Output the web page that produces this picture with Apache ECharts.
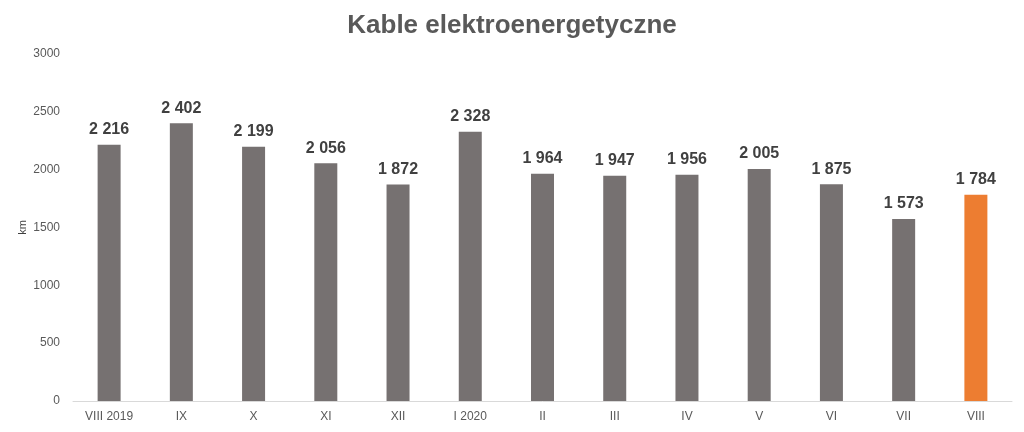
<!DOCTYPE html>
<html>
<head>
<meta charset="utf-8">
<script src="https://cdn.jsdelivr.net/npm/echarts@6/dist/echarts.min.js"></script>
<style>
  html, body { margin: 0; padding: 0; background: #fff; }
  #chart { width: 1024px; height: 432px; }
</style>
</head>
<body>
<div id="chart"></div>
<script>
var categories = ["VIII 2019", "IX", "X", "XI", "XII", "I 2020", "II", "III", "IV", "V", "VI", "VII", "VIII"];
var values = [2216, 2402, 2199, 2056, 1872, 2328, 1964, 1947, 1956, 2005, 1875, 1573, 1784];
var highlightIndex = 12;

var font = "'Liberation Sans', Arial, sans-serif";

function fmt(v){
  // thousands separated with a space, like the original
  return String(v).replace(/\B(?=(\d{3})+(?!\d))/g, " ");
}

var chart = echarts.init(document.getElementById("chart"));

var barData = [];
for (var i = 0; i < values.length; i++) {
  barData.push({
    value: values[i],
    itemStyle: { color: i === highlightIndex ? "#ED7D31" : "#767171" }
  });
}

chart.setOption({
  backgroundColor: "#fff",
  animation: false,
  title: {
    text: "Kable elektroenergetyczne",
    left: "center",
    top: 8,
    textStyle: { color: "#595959", fontSize: 26, fontWeight: "bold", fontFamily: font }
  },
  grid: { left: 73, right: 12, top: 54, bottom: 31 },
  xAxis: {
    type: "category",
    data: categories,
    axisLine: { lineStyle: { color: "#D9D9D9" } },
    axisTick: { show: false },
    axisLabel: { color: "#595959", fontSize: 12, fontFamily: font, margin: 10 }
  },
  yAxis: {
    type: "value",
    min: 0,
    max: 3000,
    interval: 500,
    name: "km",
    nameLocation: "middle",
    nameGap: 45,
    nameMoveOverlap: false,
    nameTextStyle: { color: "#404040", fontSize: 11, fontFamily: font },
    splitLine: { show: false },
    axisLine: { show: false },
    axisTick: { show: false },
    axisLabel: { color: "#595959", fontSize: 12, fontFamily: font, margin: 13, formatter: function(v){ return String(v); } }
  },
  series: [{
    type: "bar",
    data: barData,
    barWidth: 23,
    label: {
      show: true,
      position: "top",
      distance: 7,
      color: "#404040",
      fontSize: 16,
      fontWeight: "bold",
      fontFamily: font,
      formatter: function(p){ return fmt(p.value); }
    }
  }]
});
</script>
</body>
</html>
